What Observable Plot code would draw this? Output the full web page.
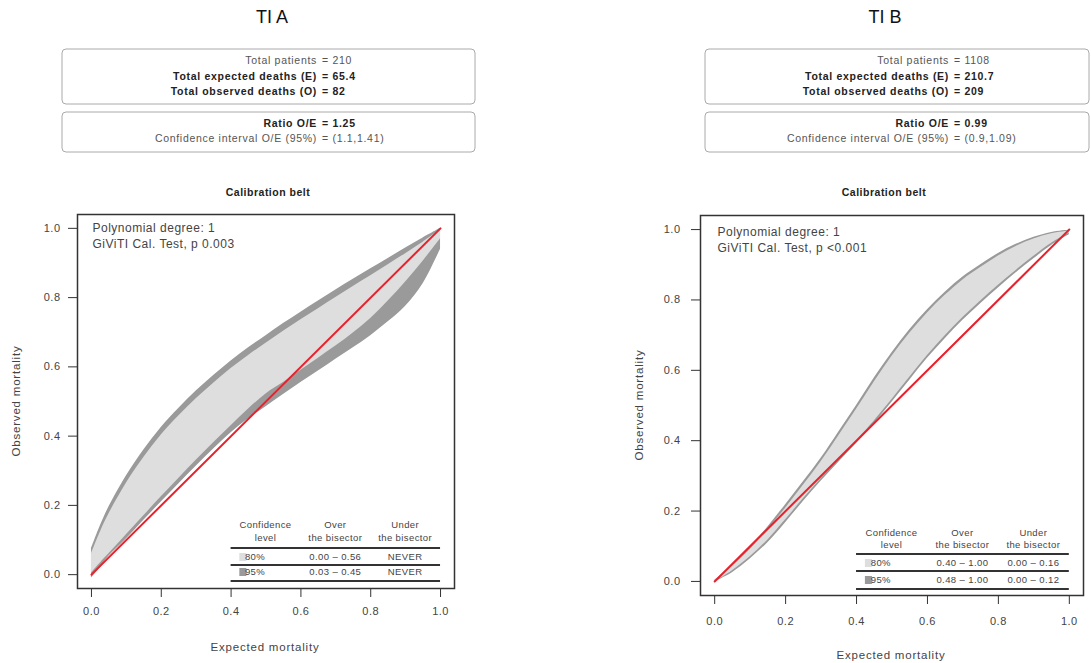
<!DOCTYPE html>
<html><head><meta charset="utf-8">
<script src="https://cdn.jsdelivr.net/npm/d3@7"></script>
<script src="https://cdn.jsdelivr.net/npm/@observablehq/plot@0.6"></script>
<style>
body{margin:0;background:#fff;width:1091px;height:663px;overflow:hidden;position:relative;font-family:"Liberation Sans",Arial,sans-serif;}
.panel{position:absolute;top:0;}
#overlay{position:absolute;left:0;top:0;pointer-events:none;}
</style></head><body>
<div id="pa" class="panel" style="left:0px"></div>
<div id="pb" class="panel" style="left:545px"></div>
<svg id="overlay" width="1091" height="663"></svg>
<script>
// ---- data ----
const axisTicks = [0, 0.2, 0.4, 0.6, 0.8, 1.0];
const beltX = [0,0.025,0.05,0.1,0.15,0.2,0.25,0.3,0.35,0.4,0.45,0.5,0.55,0.6,0.65,0.7,0.75,0.8,0.85,0.9,0.95,1.0];
const bisectorX = [0, 1];
const bisectorY = [0, 1];

// Panel A (TI A)
const aUp95 = [0.075,0.14,0.195,0.285,0.36,0.425,0.48,0.53,0.575,0.617,0.655,0.69,0.725,0.758,0.79,0.822,0.853,0.883,0.913,0.943,0.972,1.0];
const aUp80 = [0.06,0.122,0.175,0.264,0.338,0.403,0.458,0.508,0.553,0.595,0.633,0.668,0.703,0.736,0.768,0.8,0.832,0.863,0.895,0.927,0.96,0.995];
const aLo80 = [0.005,0.033,0.06,0.115,0.17,0.225,0.278,0.33,0.381,0.43,0.478,0.522,0.555,0.59,0.625,0.66,0.698,0.74,0.79,0.845,0.905,0.97];
const aLo95 = [-0.01,0.02,0.053,0.103,0.157,0.21,0.262,0.313,0.363,0.41,0.45,0.485,0.52,0.555,0.588,0.622,0.655,0.69,0.73,0.775,0.84,0.94];

// Panel B (TI B)
const bUp95 = [0.003,0.024,0.047,0.097,0.155,0.218,0.283,0.35,0.425,0.5,0.578,0.65,0.715,0.772,0.822,0.865,0.9,0.932,0.958,0.978,0.992,0.998];
const bUp80 = [0.001,0.021,0.043,0.091,0.147,0.208,0.273,0.34,0.414,0.489,0.567,0.64,0.705,0.763,0.813,0.857,0.892,0.925,0.952,0.973,0.988,0.996];
const bLo80 = [0.0,0.014,0.03,0.07,0.118,0.175,0.235,0.292,0.346,0.4,0.456,0.517,0.58,0.642,0.698,0.75,0.797,0.842,0.884,0.924,0.961,0.99];
const bLo95 = [-0.003,0.011,0.025,0.064,0.11,0.167,0.227,0.285,0.339,0.392,0.448,0.509,0.572,0.634,0.69,0.742,0.789,0.834,0.877,0.917,0.955,0.985];

const titles = ["TI A", "TI B"];
const statsLabelsTop = ["Total patients", "Total expected deaths (E)", "Total observed deaths (O)"];
const statsLabelsBottom = ["Ratio O/E", "Confidence interval O/E (95%)"];
const aStats = ["210", "65.4", "82", "1.25", "(1.1,1.41)"];
const bStats = ["1108", "210.7", "209", "0.99", "(0.9,1.09)"];
const aInfo = ["Polynomial degree: 1", "GiViTI Cal. Test, p 0.003"];
const bInfo = ["Polynomial degree: 1", "GiViTI Cal. Test, p <0.001"];
const tableHeaders = [["Confidence", "level"], ["Over", "the bisector"], ["Under", "the bisector"]];
const confLevels = ["80%", "95%"];
const aOver = ["0.00 \u2013 0.56", "0.03 \u2013 0.45"];
const aUnder = ["NEVER", "NEVER"];
const bOver = ["0.40 \u2013 1.00", "0.48 \u2013 1.00"];
const bUnder = ["0.00 \u2013 0.16", "0.00 \u2013 0.12"];

const C80 = "#dedede", C95 = "#9a9a9a", RED = "#e8222c", TXT = "#444";
const FONT = "Liberation Sans, Arial, sans-serif";

function makePanel(el, cfg) {
  const idx = d3.range(beltX.length);
  const chart = Plot.plot({
    width: cfg.width, height: 663,
    marginLeft: cfg.ml, marginRight: cfg.mr, marginTop: cfg.mt, marginBottom: cfg.mb,
    style: {fontFamily: FONT, background: "transparent", color: "#333", letterSpacing: "0.5px"},
    x: {domain: [-0.04, 1.04]},
    y: {domain: [-0.04, 1.04]},
    marks: [
      Plot.areaY(idx, {x: i => beltX[i], y1: i => cfg.lo95[i], y2: i => cfg.up95[i], fill: C95, curve: "catmull-rom"}),
      Plot.areaY(idx, {x: i => beltX[i], y1: i => cfg.lo80[i], y2: i => cfg.up80[i], fill: C80, curve: "catmull-rom"}),
      Plot.line(d3.range(bisectorX.length), {x: i => bisectorX[i], y: i => bisectorY[i], stroke: RED, strokeWidth: 2}),
      Plot.frame({stroke: "#333", strokeWidth: 1.5}),
      Plot.axisX({ticks: axisTicks, tickSize: 9, tickPadding: cfg.xpad, tickFormat: d => d.toFixed(1), fontSize: 11, fill: TXT, label: null}),
      Plot.axisY({ticks: axisTicks, tickSize: 9, tickPadding: cfg.ypad, tickFormat: d => d.toFixed(1), fontSize: 11, fill: TXT, label: null}),
      Plot.text([cfg.info.join("\n")], {frameAnchor: "top-left", dx: cfg.infoDx, dy: cfg.infoDy, text: d => d, textAnchor: "start", lineAnchor: "top", fontSize: 12, lineHeight: 1.35, fill: TXT})
    ]
  });
  el.appendChild(chart);
  // legend table inside the plot
  const sx = chart.scale("x"), sy = chart.scale("y");
  const bottom = sy.apply(-0.04);
  const g = d3.select(chart).append("g").attr("font-family", FONT).attr("font-size", 9.5).attr("letter-spacing", "0.4px").attr("fill", TXT);
  const x0 = sx.apply(0.4), x1 = sx.apply(1.0);
  const cols = [0.5, 0.7, 0.9].map(v => sx.apply(v));
  tableHeaders.forEach((h, j) => {
    h.forEach((t, k) => g.append("text").attr("x", cols[j]).attr("y", bottom + cfg.rowY[k]).attr("text-anchor", "middle").attr("dominant-baseline", "middle").text(t));
  });
  [cfg.rowY[2], cfg.rowY[4], cfg.rowY[6]].forEach(yy =>
    g.append("line").attr("x1", x0).attr("x2", x1).attr("y1", bottom + yy).attr("y2", bottom + yy).attr("stroke", "#333").attr("stroke-width", 2));
  confLevels.forEach((c, r) => {
    const yy = bottom + cfg.rowY[3 + 2 * r];
    g.append("rect").attr("x", sx.apply(0.425)).attr("y", yy - 4).attr("width", 7).attr("height", 8).attr("fill", r === 0 ? C80 : C95);
    g.append("text").attr("x", sx.apply(0.47)).attr("y", yy).attr("dominant-baseline", "middle").text(c);
    g.append("text").attr("x", cols[1]).attr("y", yy).attr("text-anchor", "middle").attr("dominant-baseline", "middle").text(cfg.over[r]);
    g.append("text").attr("x", cols[2]).attr("y", yy).attr("text-anchor", "middle").attr("dominant-baseline", "middle").text(cfg.under[r]);
  });
}

makePanel(document.getElementById("pa"), {
  width: 545, ml: 77, mr: 91, mt: 214, mb: 75, xpad: 10, ypad: 8,
  up95: aUp95, up80: aUp80, lo80: aLo80, lo95: aLo95, info: aInfo, infoDx: 15, infoDy: 6,
  rowY: [-63, -50, -40, -31, -23, -16, -7], over: aOver, under: aUnder
});
makePanel(document.getElementById("pb"), {
  width: 546, ml: 155, mr: 8, mt: 215, mb: 68, xpad: 13, ypad: 11,
  up95: bUp95, up80: bUp80, lo80: bLo80, lo95: bLo95, info: bInfo, infoDx: 17, infoDy: 9,
  rowY: [-62, -50, -41, -32, -24, -15, -6], over: bOver, under: bUnder
});

// ---- header / titles overlay ----
const ov = d3.select("#overlay").attr("font-family", FONT);
const headers = [
  {title: titles[0], tx: 272, bx0: 62, bx1: 475, eq: 322, stats: aStats, calX: 268, axX: 265, axY: 648, ylX: 17, ylY: 401},
  {title: titles[1], tx: 885, bx0: 705, bx1: 1089, eq: 954, stats: bStats, calX: 884, axX: 891, axY: 656, ylX: 640, ylY: 405}
];
headers.forEach(h => {
  ov.append("text").attr("x", h.tx).attr("y", 23).attr("text-anchor", "middle").attr("font-size", 18).attr("fill", "#111").text(h.title);
  ov.append("rect").attr("x", h.bx0).attr("y", 49).attr("width", h.bx1 - h.bx0).attr("height", 55).attr("rx", 4).attr("fill", "none").attr("stroke", "#aaa");
  ov.append("rect").attr("x", h.bx0).attr("y", 112).attr("width", h.bx1 - h.bx0).attr("height", 40).attr("rx", 4).attr("fill", "none").attr("stroke", "#aaa");
  const lines = [
    {lab: statsLabelsTop[0], v: h.stats[0], y: 61, b: false},
    {lab: statsLabelsTop[1], v: h.stats[1], y: 77, b: true},
    {lab: statsLabelsTop[2], v: h.stats[2], y: 92, b: true},
    {lab: statsLabelsBottom[0], v: h.stats[3], y: 124, b: true},
    {lab: statsLabelsBottom[1], v: h.stats[4], y: 139, b: false}
  ];
  lines.forEach(l => {
    const common = s => s.attr("y", l.y).attr("dominant-baseline", "middle").attr("font-size", 10.5).attr("letter-spacing", "0.7px")
      .attr("font-weight", l.b ? "bold" : "normal").attr("fill", l.b ? "#222" : "#555");
    common(ov.append("text")).attr("x", h.eq - 5).attr("text-anchor", "end").text(l.lab);
    common(ov.append("text")).attr("x", h.eq).attr("text-anchor", "start").text("= " + l.v);
  });
  ov.append("text").attr("x", h.calX).attr("y", 193).attr("text-anchor", "middle").attr("dominant-baseline", "middle")
    .attr("font-size", 10.5).attr("letter-spacing", "0.5px").attr("font-weight", "bold").attr("fill", "#222").text("Calibration belt");
  ov.append("text").attr("x", h.axX).attr("y", h.axY).attr("text-anchor", "middle").attr("dominant-baseline", "middle")
    .attr("font-size", 11.5).attr("letter-spacing", "0.8px").attr("fill", TXT).text("Expected mortality");
  ov.append("text").attr("transform", `translate(${h.ylX},${h.ylY}) rotate(-90)`).attr("text-anchor", "middle").attr("dominant-baseline", "middle")
    .attr("font-size", 11.5).attr("letter-spacing", "0.8px").attr("fill", TXT).text("Observed mortality");
});
</script>
</body></html>
